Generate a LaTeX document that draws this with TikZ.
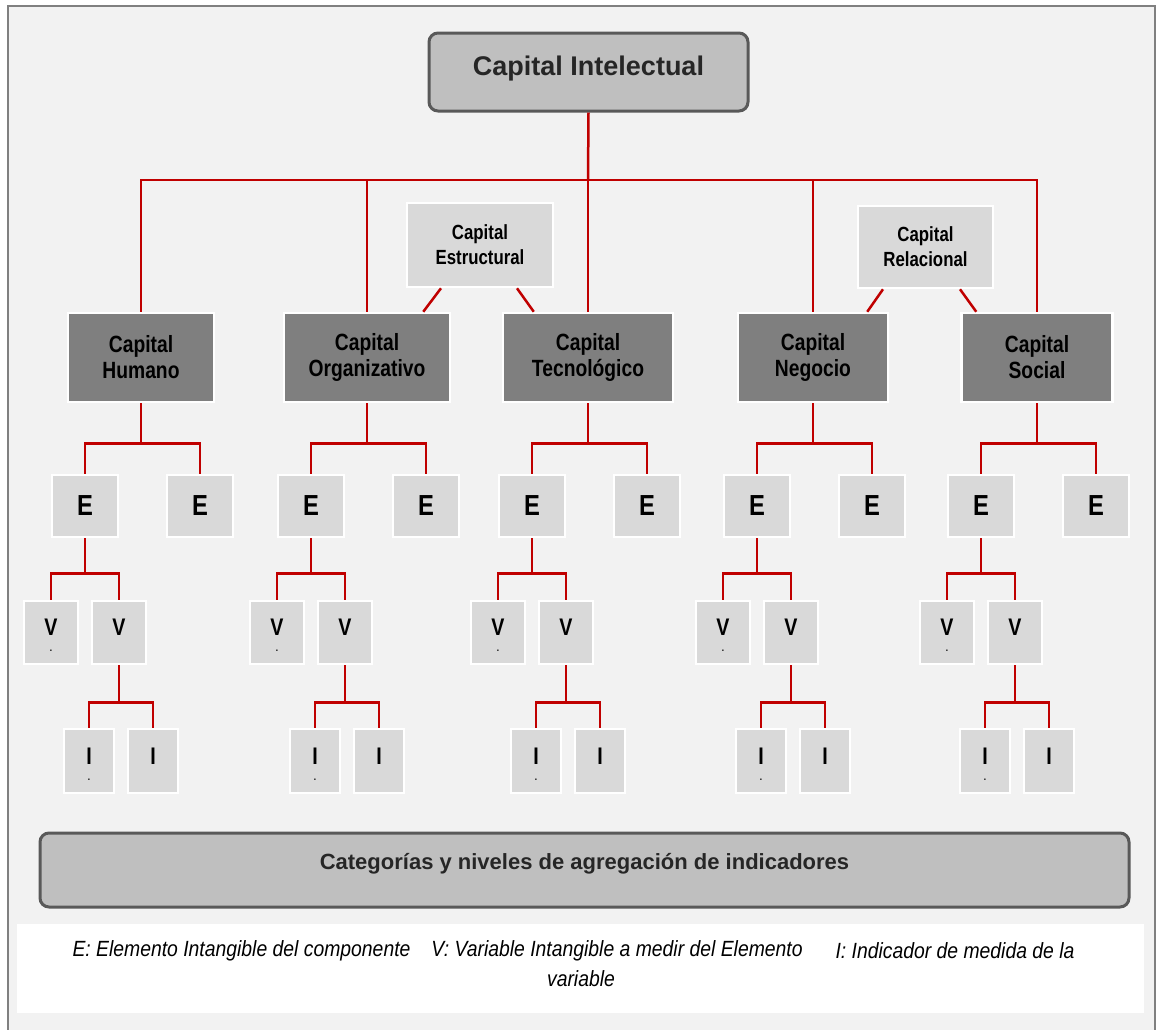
\documentclass[tikz,border=0pt]{standalone}
\usepackage{fontspec}
\setmainfont{Liberation Sans}
\newfontfamily\narrowfont[FakeStretch=0.82]{Liberation Sans}
\newfontfamily\legendfont[FakeStretch=0.88]{Liberation Sans}

\definecolor{linered}{HTML}{C00000}
\definecolor{framebg}{HTML}{F2F2F2}
\definecolor{framegray}{HTML}{808080}
\definecolor{capgray}{HTML}{7F7F7F}
\definecolor{boxgray}{HTML}{D9D9D9}
\definecolor{titlegray}{HTML}{BFBFBF}
\definecolor{titleedge}{HTML}{595959}
\definecolor{titletext}{HTML}{262626}

% small mark under the left V and I letters
\newcommand\withmark[1]{\setbox0\hbox{#1}%
  \rlap{\hbox to\wd0{\hss\raisebox{-16pt}[0pt][0pt]{\fontsize{10}{10}\selectfont .}\hss}}\box0}

\tikzset{
  link/.style={draw=linered, line width=2.5pt},
  titlebox/.style={rectangle, rounded corners=9pt, fill=titlegray, draw=titleedge,
    line width=3pt, text=titletext, inner sep=0pt},
  capbox/.style={rectangle, fill=capgray, draw=white, line width=2.5pt,
    minimum height=89pt, align=center, inner sep=0pt,
    font=\narrowfont\bfseries\fontsize{23.5}{26}\selectfont},
  subbox/.style={rectangle, fill=boxgray, draw=white, line width=2.5pt,
    align=center, inner sep=0pt,
    font=\narrowfont\bfseries\fontsize{20.5}{25}\selectfont},
  elem/.style={rectangle, fill=boxgray, draw=white, line width=2.5pt,
    minimum width=66pt, minimum height=62pt, inner sep=0pt,
    font=\narrowfont\bfseries\fontsize{29}{29}\selectfont},
  var/.style={rectangle, fill=boxgray, draw=white, line width=2.5pt,
    minimum width=54pt, minimum height=63pt, inner sep=0pt,
    text height=17.5pt, text depth=11pt,
    font=\narrowfont\bfseries\fontsize{24}{24}\selectfont},
  ind/.style={var, minimum width=50pt, minimum height=64pt},
  legend/.style={inner sep=0pt, font=\legendfont\itshape\fontsize{22}{26}\selectfont}
}

\begin{document}
\begin{tikzpicture}[x=1pt,y=-1pt]
  \useasboundingbox (0,0) rectangle (1157,1029);
  \draw[fill=framebg, draw=framegray, line width=2pt] (8,6) rectangle (1155,1045);
  \fill[white] (17,924) rectangle (1144,1013);

  \node[titlebox, minimum width=319pt, minimum height=78pt, text height=19.3pt, text depth=13pt,
    font=\bfseries\fontsize{27}{30}\selectfont] (ci) at (588.5,72) {Capital Intelectual};

  \node[capbox, minimum width=146pt] (hum) at (141,357.5) {Capital\\Humano};
  \node[capbox, minimum width=166pt] (org) at (367,357.5) {Capital\\Organizativo};
  \node[capbox, minimum width=170pt] (tec) at (588,357.5) {Capital\\Tecnológico};
  \node[capbox, minimum width=150pt] (neg) at (813,357.5) {Capital\\Negocio};
  \node[capbox, minimum width=151pt] (soc) at (1037,357.5) {Capital\\Social};

  \node[subbox, minimum width=146pt, minimum height=84pt] (est) at (480,245) {Capital\\Estructural};
  \node[subbox, minimum width=135pt, minimum height=82pt] (rel) at (925.5,247) {Capital\\Relacional};

  \coordinate (bus) at (588,180);
  \draw[link] (ci.south) -- (bus);
  \foreach \n in {hum,org,tec,neg,soc}
    \draw[link] (bus) -| (\n.north);

  \draw[link] ([xshift=-39pt]est.south) -- ([xshift=-28pt]org.north east);
  \draw[link] ([xshift=37pt]est.south) -- ([xshift=32pt]tec.north west);
  \draw[link] ([xshift=-42.5pt]rel.south) -- ([xshift=-22pt]neg.north east);
  \draw[link] ([xshift=34.5pt]rel.south) -- ([xshift=16pt]soc.north west);

  \foreach \n/\c in {hum/141,org/367,tec/588,neg/813,soc/1037}{
    \node[elem] (\n-e1) at (\c-56,506) {E};
    \node[elem] (\n-e2) at (\c+59,506) {E};
    \node[var] (\n-v1) at (\c-90,632.5) {\withmark{V}};
    \node[var] (\n-v2) at (\c-22,632.5) {V};
    \node[ind] (\n-i1) at (\c-52,761) {\withmark{I}};
    \node[ind] (\n-i2) at (\c+12,761) {I};

    \draw[link] (\n.south) -- ++(0,40) -| (\n-e1.north);
    \draw[link] (\n.south) -- ++(0,40) -| (\n-e2.north);
    \draw[link] (\n-e1.south) -- ++(0,35) -| (\n-v1.north);
    \draw[link] (\n-e1.south) -- ++(0,35) -| (\n-v2.north);
    \draw[link] (\n-v2.south) -- ++(0,37) -| (\n-i1.north);
    \draw[link] (\n-v2.south) -- ++(0,37) -| (\n-i2.north);
  }

  \node[titlebox, minimum width=1089pt, minimum height=74pt, text height=15.8pt, text depth=16pt,
    font=\bfseries\fontsize{22}{26}\selectfont] (cat) at (584.5,870)
    {Categorías y niveles de agregación de indicadores};

  \node[legend] (le) at (241.5,951) {E: Elemento Intangible del componente};
  \node[legend] (lv) at (617,951) {V: Variable Intangible a medir del Elemento};
  \node[legend] (lv2) at (581,979) {variable};
  \node[legend] (li) at (955,951) {I: Indicador de medida de la};
\end{tikzpicture}
\end{document}
